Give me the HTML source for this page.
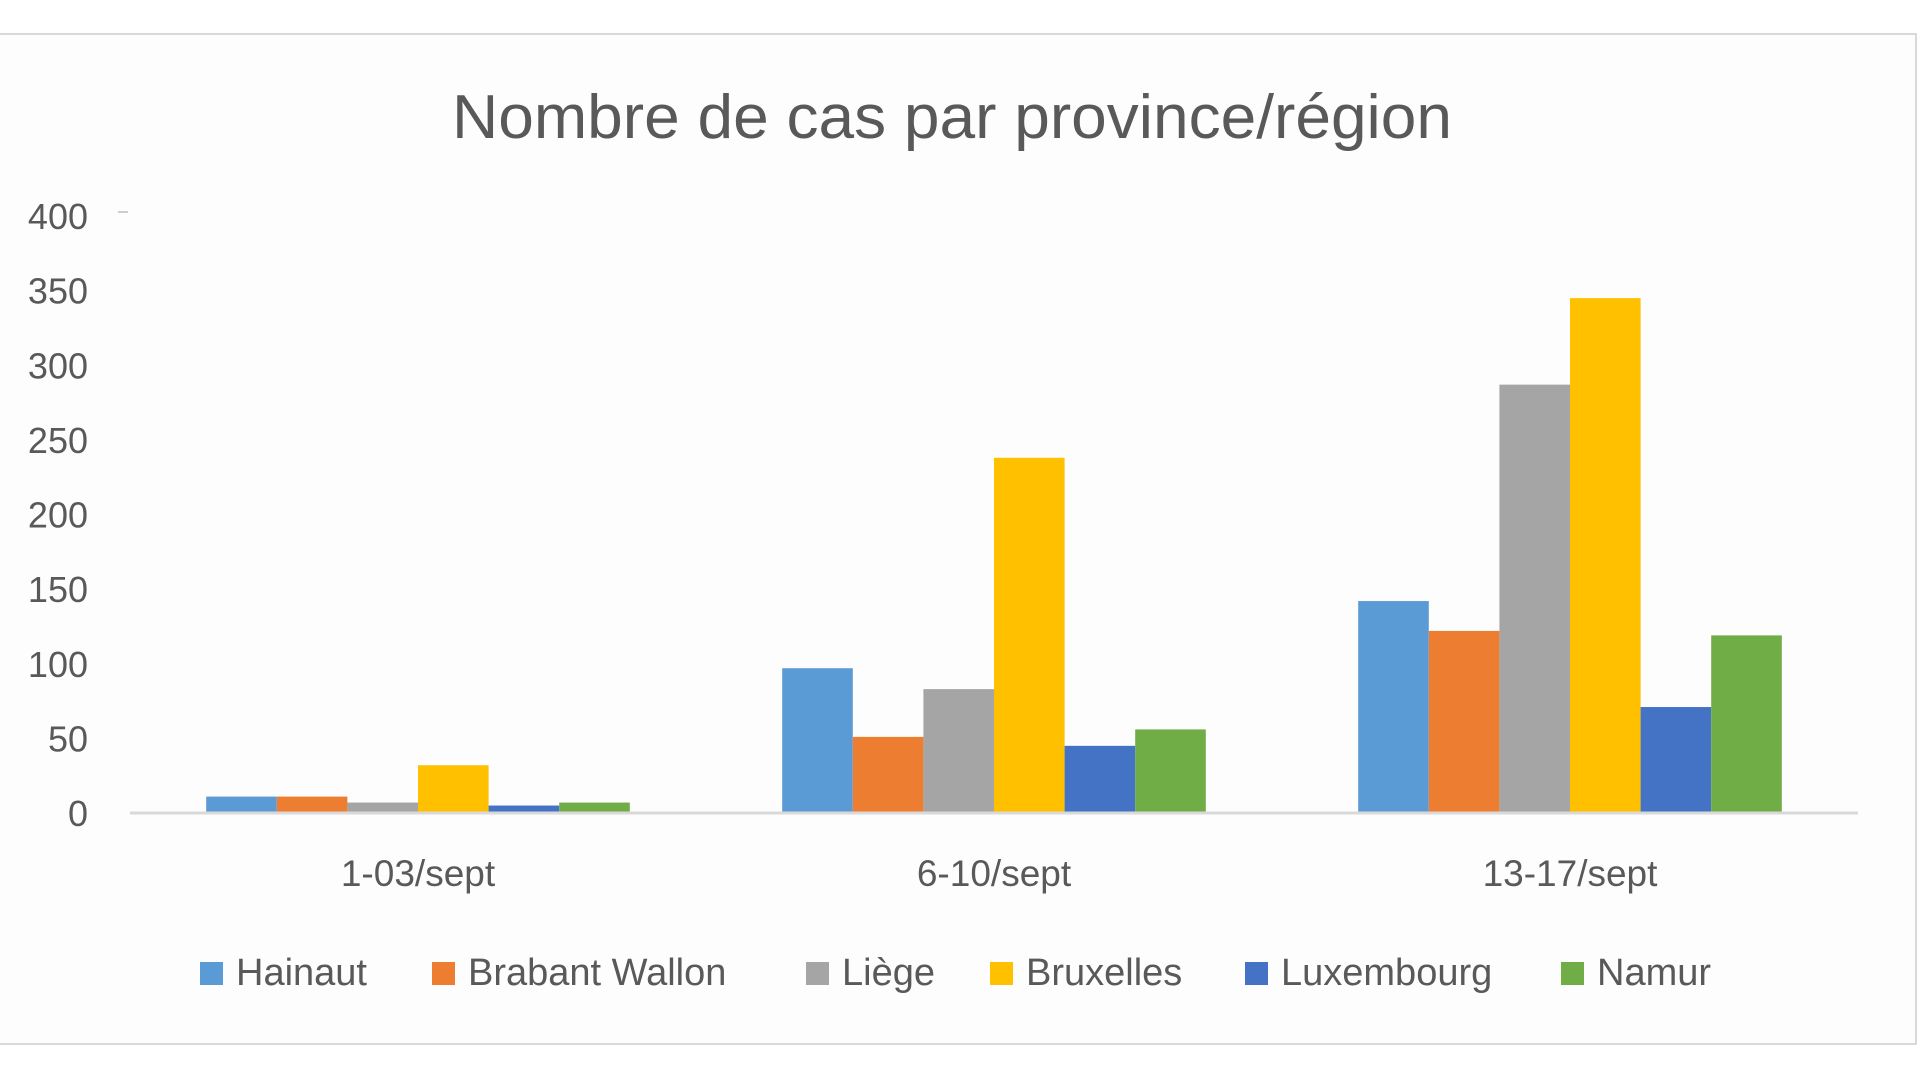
<!DOCTYPE html>
<html><head><meta charset="utf-8"><style>
html,body{margin:0;padding:0;background:#fff;}
svg{display:block;font-family:"Liberation Sans",sans-serif;}
</style></head><body>
<svg id="chart" width="1920" height="1078" viewBox="0 0 1920 1078">
<rect x="-2" y="34" width="1918" height="1010" fill="#fdfdfd" stroke="#d9d9d9" stroke-width="2"/>
<text x="952" y="138" text-anchor="middle" font-size="62" fill="#595959" textLength="1000" lengthAdjust="spacingAndGlyphs">Nombre de cas par province/région</text>
<line x1="118" y1="212" x2="128" y2="212" stroke="#ccc" stroke-width="2"/>
<g id="yticks"></g>
<g id="bars"></g>
<line x1="130" y1="813" x2="1858" y2="813" stroke="#d9d9d9" stroke-width="3"/>
<g id="xlabels"></g>
<g id="legend"></g>
</svg>
<script>
const categories = ["1-03/sept", "6-10/sept", "13-17/sept"];
const seriesNames = ["Hainaut", "Brabant Wallon", "Liège", "Bruxelles", "Luxembourg", "Namur"];
const hainaut = [11, 97, 142];
const brabantWallon = [11, 51, 122];
const liege = [7, 83, 287];
const bruxelles = [32, 238, 345];
const luxembourg = [5, 45, 71];
const namur = [7, 56, 119];
const yTicks = [0, 50, 100, 150, 200, 250, 300, 350, 400];

const seriesValues = [hainaut, brabantWallon, liege, bruxelles, luxembourg, namur];
const colors = ["#5b9bd5", "#ed7d31", "#a5a5a5", "#ffc000", "#4472c4", "#70ad47"];
const NS = "http://www.w3.org/2000/svg";
const plotL = 130, plotR = 1858, y0 = 813, yTop = 216, yMax = 400;
const yScale = v => y0 - (v / yMax) * (y0 - yTop);
const catW = (plotR - plotL) / categories.length;
const barW = 70.6;
const xCat = i => plotL + catW * (i + 0.5);

const yg = document.getElementById('yticks');
yTicks.forEach(t => {
  const tx = document.createElementNS(NS, 'text');
  tx.setAttribute('x', 88); tx.setAttribute('y', yScale(t) + 13);
  tx.setAttribute('text-anchor', 'end'); tx.setAttribute('font-size', '36'); tx.setAttribute('fill', '#595959');
  tx.textContent = t;
  
  
  yg.appendChild(tx);
});

const bg = document.getElementById('bars');
seriesValues.forEach((vals, s) => {
  vals.forEach((v, i) => {
    const r = document.createElementNS(NS, 'rect');
    const x = xCat(i) - barW * seriesValues.length / 2 + s * barW;
    r.setAttribute('x', x); r.setAttribute('y', yScale(v));
    r.setAttribute('width', barW); r.setAttribute('height', y0 - yScale(v));
    r.setAttribute('fill', colors[s]);
    
    
    bg.appendChild(r);
  });
});

const xg = document.getElementById('xlabels');
categories.forEach((c, i) => {
  const tx = document.createElementNS(NS, 'text');
  tx.setAttribute('x', xCat(i)); tx.setAttribute('y', 886);
  tx.setAttribute('text-anchor', 'middle'); tx.setAttribute('font-size', '37'); tx.setAttribute('fill', '#595959');
  tx.textContent = c;
  
  
  xg.appendChild(tx);
});

const lg = document.getElementById('legend');
const legX = [200, 432, 806, 990, 1245, 1561];
seriesNames.forEach((n, s) => {
  const g = document.createElementNS(NS, 'g');
  
  
  const r = document.createElementNS(NS, 'rect');
  r.setAttribute('x', legX[s]); r.setAttribute('y', 962); r.setAttribute('width', 23); r.setAttribute('height', 23);
  r.setAttribute('fill', colors[s]);
  
  
  const tx = document.createElementNS(NS, 'text');
  tx.setAttribute('x', legX[s] + 36); tx.setAttribute('y', 985);
  tx.setAttribute('font-size', '38'); tx.setAttribute('fill', '#595959');
  tx.textContent = n;
  
  
  g.appendChild(r); g.appendChild(tx); lg.appendChild(g);
});
</script>
</body></html>
